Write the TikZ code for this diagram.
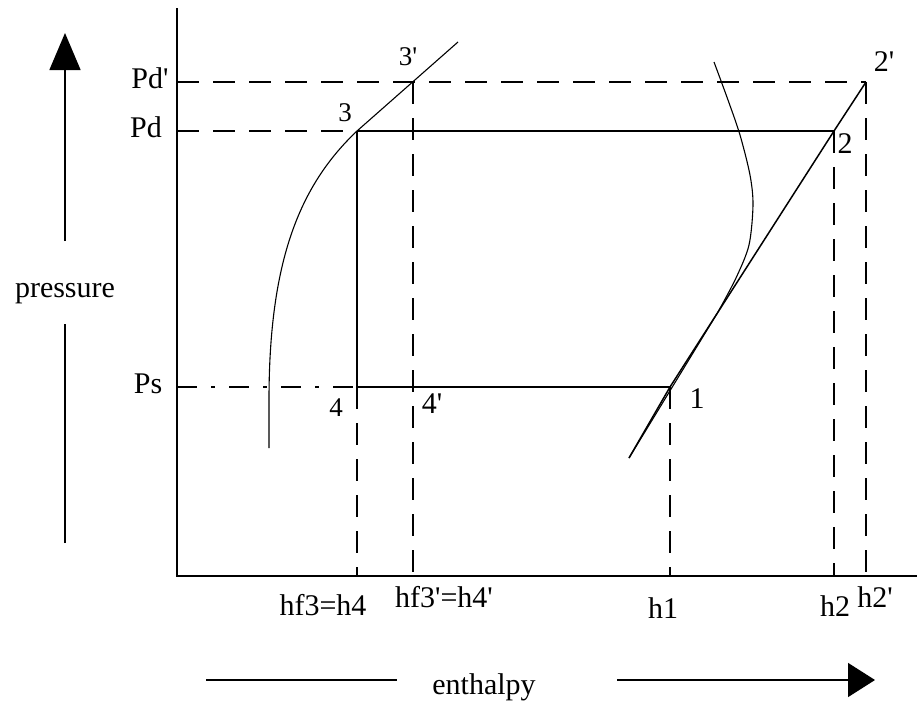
\documentclass[tikz,border=0pt]{standalone}
\usetikzlibrary{arrows.meta}
\font\lf="Liberation Serif" at 15pt
\font\lfs="Liberation Serif" at 13.5pt
\begin{document}
\begin{tikzpicture}[x=0.5pt,y=-0.5pt,
  lbl/.style={font=\lf, inner sep=0pt, anchor=base},
  slbl/.style={font=\lfs, inner sep=0pt, anchor=base},
  ax/.style={line width=1pt},
  ln/.style={line width=0.75pt},
  dsh/.style={line width=0.75pt, dash pattern=on 11pt off 7pt},
  dshdot/.style={line width=0.75pt, dash pattern=on 10pt off 7pt on 2pt off 7pt},
  crv/.style={line width=0.55pt},
  bigarrow/.style={line width=0.75pt}]
\useasboundingbox (0,0) rectangle (917,702);
% axes
\coordinate (O) at (177,576);
\coordinate (Ytop) at (177,8);
\coordinate (Xend) at (917,576);
\draw[ax] (Ytop) -- (O) -- (Xend);
% key points
\coordinate (ydp) at (177,82);
\coordinate (yd) at (177,131);
\coordinate (ys) at (177,387);
\coordinate (p3) at (357,131);
\coordinate (p3p) at (413,82);
\coordinate (p4) at (357,387);
\coordinate (p4p) at (413,387);
\coordinate (p1) at (670,387);
\coordinate (p2) at (834,131);
\coordinate (p2p) at (866,82);
\coordinate (c0) at (629,458);
\coordinate (b3) at (357,576);
\coordinate (b3p) at (413,576);
\coordinate (b1) at (670,576);
\coordinate (b2) at (834,576);
\coordinate (b2p) at (866,576);
% horizontal lines
\draw[dsh] (ydp) -- (p2p);
\draw[dsh] (yd) -- (p3);
\draw[ln] (p3) -- (p2);
\draw[dshdot] (ys) -- (p4);
\draw[ln] (p4) -- (p1);
% vertical lines
\draw[ln] (p3) -- (p4);
\draw[dsh] (p4) -- (b3);
\draw[dsh] (p3p) -- (b3p);
\draw[dsh] (p1) -- (b1);
\draw[dsh] (p2) -- (b2);
\draw[dsh] (p2p) -- (b2p);
% compression line
\draw[ln] (c0) -- (p1) -- (p2) -- (p2p);
% saturated liquid curve
\coordinate (lq0) at (269,448);
\coordinate (lq1) at (269,400);
\coordinate (lq2) at (458,42);
\draw[crv] (lq0) -- (lq1) .. controls (269,260) and (300,185) .. (p3) -- (lq2);
% saturated vapour curve
\draw[crv] plot[smooth] coordinates {(714,62) (728,100) (740,135) (750,175) (753,205) (749,245) (736,278) (718,312)} -- (c0);
% pressure arrow
\coordinate (pa0) at (65,543);
\coordinate (pa1) at (65,324);
\coordinate (pa2) at (65,241);
\coordinate (pa3) at (65,33);
\draw[bigarrow] (pa0) -- (pa1);
\draw[bigarrow, -{Triangle[length=18.5pt,width=15.5pt]}] (pa2) -- (pa3);
\node[lbl] (pressure) at (65,297) {pressure};
% enthalpy arrow
\coordinate (ea0) at (206,680);
\coordinate (ea1) at (397,680);
\coordinate (ea2) at (617,680);
\coordinate (ea3) at (875,680);
\draw[bigarrow] (ea0) -- (ea1);
\draw[bigarrow, -{Triangle[length=13.5pt,width=17pt]}] (ea2) -- (ea3);
\node[lbl] (enthalpy) at (484,694) {enthalpy};
% pressure labels
\node[lbl] (Pdp) at (150,88) {Pd'};
\node[lbl] (Pd) at (146,137) {Pd};
\node[lbl] (Ps) at (148,393) {Ps};
% point labels
\node[slbl] (l3p) at (408,65) {3'};
\node[slbl] (l3) at (345,121) {3};
\node[lbl] (l2p) at (884,71) {2'};
\node[lbl] (l2) at (845,153) {2};
\node[slbl] (l4) at (336,416) {4};
\node[lbl] (l4p) at (432,413) {4'};
\node[lbl] (l1) at (697,408) {1};
% enthalpy labels
\node[lbl] (hf3) at (323,615) {hf3=h4};
\node[lbl] (hf3p) at (444,607) {hf3'=h4'};
\node[lbl] (h1) at (663,618) {h1};
\node[lbl] (h2) at (835,616) {h2};
\node[lbl] (h2p) at (875,607) {h2'};
\end{tikzpicture}
\end{document}
